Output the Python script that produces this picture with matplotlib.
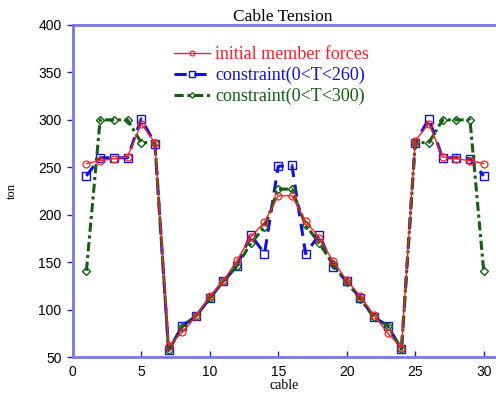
import matplotlib.pyplot as plt

cable = list(range(1, 31))

initial = [254, 257, 259, 261, 296, 276, 62, 76, 93, 114, 130, 152, 177, 192, 220,
           220, 193, 176, 151, 131, 114, 94, 75, 60, 278, 296, 261, 259, 257, 254]
c260 = [241, 260, 260, 260, 301, 275, 57, 83, 93, 112, 130, 146, 179, 159, 251,
        252, 159, 179, 145, 130, 112, 92, 83, 58, 276, 301, 260, 260, 259, 241]
c300 = [141, 300, 300, 300, 276, 276, 57, 82, 93, 112, 130, 146, 170, 187, 227,
        227, 189, 170, 148, 129, 111, 92, 83, 58, 276, 276, 300, 300, 300, 141]

labels = ["initial member forces", "constraint(0<T<260)", "constraint(0<T<300)"]
colors = ["#ff2020", "#1010e0", "#106010"]

serif = "Liberation Serif"
spine_col = "#7878e0"

fig = plt.figure(figsize=(4.96, 4.03), dpi=100)
ax = fig.add_axes([0.1466, 0.114, 0.8534, 0.824])

l2, = ax.plot(cable, c260, color=colors[1], ls=(0, (4, 2.5)), lw=2.2,
              marker="s", ms=5.5, mfc="none", mec=colors[1], mew=1.0, zorder=2)
l3, = ax.plot(cable, c300, color=colors[2], ls=(0, (3, 1.2, 1, 1.2)), lw=2.2,
              marker="D", ms=4, mfc="none", mec=colors[2], mew=1.0, zorder=3)
l1, = ax.plot(cable, initial, color=colors[0], ls="-", lw=1.0,
              marker="o", ms=5, mfc="none", mec=colors[0], mew=0.9, zorder=4)

ax.set_xlim(0, 30.9)
ax.set_ylim(50, 400)
ax.set_xticks([0, 5, 10, 15, 20, 25, 30])
ax.set_yticks([50, 100, 150, 200, 250, 300, 350, 400])

for s in ["left", "bottom", "top"]:
    ax.spines[s].set_color(spine_col)
    ax.spines[s].set_linewidth(2)
ax.spines["right"].set_visible(False)

ax.tick_params(axis="x", direction="in", length=4, color="#2020c0", width=1,
               labelsize=10, pad=6)
ax.tick_params(axis="y", direction="out", length=4, color="#2020c0", width=1,
               labelsize=10, pad=4)
for t in ax.get_xticklabels() + ax.get_yticklabels():
    t.set_family("Liberation Sans")

ax.set_title("Cable Tension", family=serif, fontsize=12.5, pad=2, x=0.497)
ax.set_xlabel("cable", family=serif, fontsize=10, labelpad=0)
ax.set_ylabel("ton", family=serif, fontsize=9, labelpad=15)

leg = ax.legend([l1, l2, l3], labels, loc="upper left",
                bbox_to_anchor=(0.2, 0.985), frameon=False,
                prop={"family": serif, "size": 13}, handlelength=2.0,
                handletextpad=0.3, labelspacing=0.2, markerscale=0.7)
for txt, c in zip(leg.get_texts(), colors):
    txt.set_color(c)

fig.savefig("out.png", dpi=100)
